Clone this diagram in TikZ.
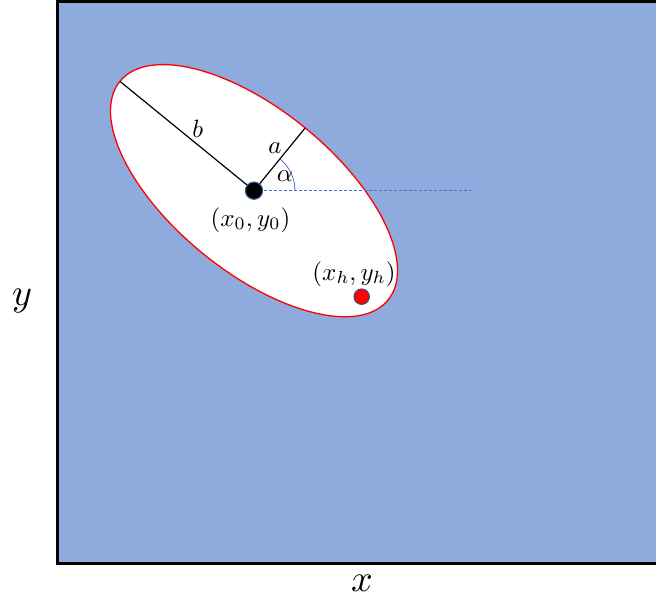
\documentclass[tikz,border=0pt]{standalone}
\usepackage{amsmath}
\definecolor{bgblue}{HTML}{8FAADC}
\definecolor{accblue}{HTML}{4472C4}
\definecolor{dotedge}{HTML}{2F528F}
\newcommand{\labA}[1]{\scalebox{2.5}{$#1$}}
\newcommand{\labP}[1]{\scalebox{2.5}{$#1$}}
\newcommand{\labX}[1]{\scalebox{3.8}{$#1$}}
\begin{document}
\begin{tikzpicture}[x=1pt,y=1pt,
  lab/.style={inner sep=0},
  radius line/.style={line width=1.2pt, black},
  dotnode/.style={circle, draw=dotedge, line width=1pt, inner sep=0}]
\useasboundingbox (0,0) rectangle (656,601);
\clip (0,0) rectangle (656,601);
% frame
\draw[line width=3pt, fill=bgblue] (57.5,37) rectangle (664,599.5);
% ellipse
\coordinate (c) at (254,410.3);
\draw[red, line width=1.3pt, fill=white, rotate around={140.8:(c)}] (c) ellipse [x radius=173, y radius=81];
\path (c) ++(140.8:173) coordinate (bend);
\path (c) ++(50.8:81) coordinate (aend);
\coordinate (dend) at (471,410.3);
% dashed reference line and angle arc
\draw[accblue, dash pattern=on 3pt off 2pt, line width=0.8pt] (c) -- (dend);
\draw[accblue, line width=0.8pt] (c) ++(0:41) arc[start angle=0, end angle=50.8, radius=41];
% semi-axes
\node[dotnode, fill=black, minimum size=17pt] (c0) at (c) {};
\draw[radius line] (c0) -- (bend);
\draw[radius line] (c0) -- (aend);
\node[dotnode, fill=black, minimum size=17pt] at (c) {};
% point h
\node[dotnode, fill=red, minimum size=15.5pt] (h) at (361.7,304.3) {};
% labels
\node[lab] (lb) at (197.7,472.5) {\labA{b}};
\node[lab] (la) at (275,453) {\labA{a}};
\node[lab] (lal) at (285,424.5) {\labA{\alpha}};
\node[lab] (lc) at (250.5,381) {\labP{(x_0,y_0)}};
\node[lab] (lh) at (354,327) {\labP{(x_h,y_h)}};
\node[lab] (ly) at (22,300) {\labX{y}};
\node[lab] (lx) at (362,18) {\labX{x}};
\end{tikzpicture}
\end{document}
